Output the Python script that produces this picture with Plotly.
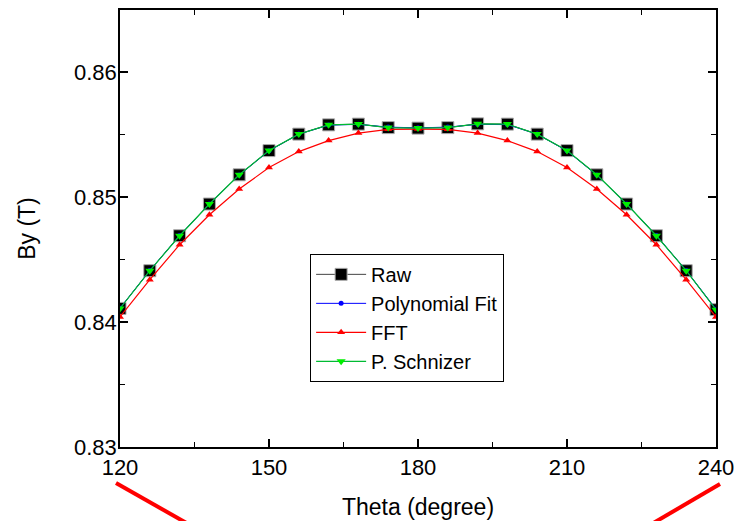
import plotly.graph_objects as go

theta = [120, 126, 132, 138, 144, 150, 156, 162, 168, 174, 180,
         186, 192, 198, 204, 210, 216, 222, 228, 234, 240]

raw = [0.84110, 0.84412, 0.84692, 0.84946, 0.85180, 0.85374, 0.85506, 0.85580,
       0.85586, 0.85558, 0.85554, 0.85558, 0.85588, 0.85586, 0.85506, 0.85374,
       0.85180, 0.84946, 0.84692, 0.84412, 0.84100]

poly = [0.84112, 0.84414, 0.84694, 0.84946, 0.85178, 0.85372, 0.85506, 0.85578,
        0.85584, 0.85562, 0.85556, 0.85562, 0.85584, 0.85582, 0.85506, 0.85372,
        0.85178, 0.84946, 0.84694, 0.84414, 0.84104]

fft = [0.84042, 0.84340, 0.84620, 0.84860, 0.85066, 0.85238, 0.85366, 0.85454,
       0.85514, 0.85544, 0.85546, 0.85544, 0.85514, 0.85454, 0.85366, 0.85238,
       0.85066, 0.84860, 0.84620, 0.84340, 0.84042]

schnizer = [0.84110, 0.84412, 0.84692, 0.84946, 0.85180, 0.85374, 0.85506, 0.85580,
            0.85586, 0.85558, 0.85554, 0.85558, 0.85588, 0.85586, 0.85506, 0.85374,
            0.85180, 0.84946, 0.84692, 0.84412, 0.84100]

FONT = "Liberation Sans, Arial, sans-serif"

fig = go.Figure()
fig.add_trace(go.Scatter(
    x=theta, y=raw, name="Raw", mode="lines+markers",
    line=dict(color="#444444", width=1),
    marker=dict(symbol="square", size=12, color="black",
                line=dict(color="#aaaaaa", width=1))))
fig.add_trace(go.Scatter(
    x=theta, y=poly, name="Polynomial Fit", mode="lines+markers",
    line=dict(color="#0000ff", width=1),
    marker=dict(symbol="circle", size=5, color="#0000ff")))
fig.add_trace(go.Scatter(
    x=theta, y=fft, name="FFT", mode="lines+markers",
    line=dict(color="#ff0000", width=1.2),
    marker=dict(symbol="triangle-up", size=7, color="#ff0000")))
fig.add_trace(go.Scatter(
    x=theta, y=schnizer, name="P. Schnizer", mode="lines+markers",
    line=dict(color="#00bb33", width=1.2),
    marker=dict(symbol="triangle-down", size=8, color="#00ee00")))

axis_common = dict(
    showline=True, linecolor="black", linewidth=1.5, mirror="ticks",
    ticks="inside", ticklen=8, tickwidth=1.5, tickcolor="black",
    showgrid=False, zeroline=False, automargin=False,
    tickfont=dict(family=FONT, size=22, color="black"),
)

fig.update_xaxes(
    range=[120, 240], tickvals=[120, 150, 180, 210, 240],
    minor=dict(dtick=15, tick0=120, ticks="inside", ticklen=5,
               tickwidth=1.2, tickcolor="black", showgrid=False),
    title=dict(text="Theta (degree)", font=dict(family=FONT, size=23, color="black"),
               standoff=20),
    **axis_common)
fig.update_yaxes(
    range=[0.83, 0.865], tickvals=[0.83, 0.84, 0.85, 0.86],
    ticktext=["0.83", "0.84", "0.85", "0.86"],
    ticklabelstandoff=-3,
    minor=dict(dtick=0.005, tick0=0.83, ticks="inside", ticklen=5,
               tickwidth=1.2, tickcolor="black", showgrid=False),
    title=dict(text="By (T)", font=dict(family=FONT, size=23, color="black"),
               standoff=32),
    **axis_common)

fig.update_layout(
    width=736, height=521,
    margin=dict(l=120, r=20, t=10, b=74),
    plot_bgcolor="white", paper_bgcolor="white",
    font=dict(family=FONT, size=22, color="black"),
    legend=dict(x=0.319, y=0.442, xanchor="left", yanchor="top",
                bgcolor="white", bordercolor="black", borderwidth=1,
                font=dict(family=FONT, size=20, color="black"),
                itemwidth=50, tracegroupgap=0),
    showlegend=True,
)

# decorative red strokes below the axis (annotation remnants)
fig.add_shape(type="line", xref="paper", yref="paper",
              x0=(116 - 120) / 596, y0=(447 - 483) / 437,
              x1=(190 - 120) / 596, y1=(447 - 525) / 437,
              line=dict(color="#ff0000", width=4))
fig.add_shape(type="line", xref="paper", yref="paper",
              x0=(720 - 120) / 596, y0=(447 - 484) / 437,
              x1=(650 - 120) / 596, y1=(447 - 525) / 437,
              line=dict(color="#ff0000", width=4))

fig.write_html("out.html")
